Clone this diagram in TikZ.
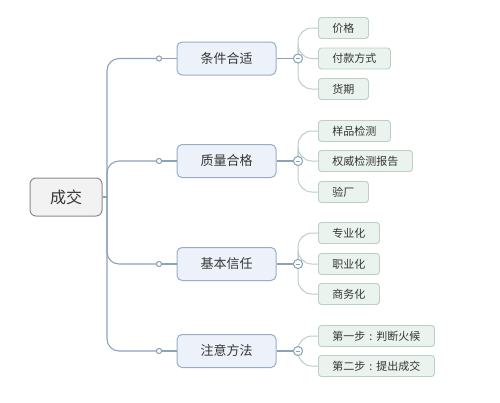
\documentclass[tikz,border=0pt]{standalone}
\usepackage{fontspec}
\newfontfamily\cjk{Noto Sans CJK SC}
\definecolor{mainline}{HTML}{8CA2B8}
\definecolor{subline}{HTML}{BDCEC4}
\definecolor{lvfill}{HTML}{EDF2FA}
\definecolor{lvdraw}{HTML}{98ADC5}
\definecolor{rootfill}{HTML}{F2F2F2}
\definecolor{rootdraw}{HTML}{8C8C8C}
\definecolor{chfill}{HTML}{EAF3EE}
\definecolor{chdraw}{HTML}{B9D0C2}
\definecolor{txt}{HTML}{363636}
\newcommand{\midcolon}{\makebox[11pt][c]{:}}
\tikzset{
  rootbox/.style={draw=rootdraw, fill=rootfill, line width=1pt, rounded corners=6pt,
    minimum width=72pt, minimum height=38pt, inner sep=0pt, text=txt,
    font=\cjk\fontsize{16}{18}\selectfont},
  lvbox/.style={draw=lvdraw, fill=lvfill, line width=1pt, rounded corners=5pt,
    minimum width=99pt, minimum height=33pt, inner sep=0pt, text=txt,
    font=\cjk\fontsize{13}{15}\selectfont},
  chbox/.style={draw=chdraw, fill=chfill, line width=0.9pt, rounded corners=3pt,
    minimum height=21pt, inner sep=0pt, anchor=west, text=txt,
    font=\cjk\fontsize{11}{13}\selectfont},
  mainconn/.style={draw=mainline, line width=1.1pt, rounded corners=12pt},
  subconn/.style={draw=subline, line width=1pt, rounded corners=14pt},
  knob/.style={circle, draw=mainline, fill=white, line width=0.9pt, minimum size=5pt, inner sep=0pt},
  minusknob/.style={circle, draw=mainline, fill=white, line width=0.9pt, minimum size=9pt, inner sep=0pt,
    path picture={\draw[mainline, line width=0.8pt] ([xshift=-2pt]path picture bounding box.center) -- ([xshift=2pt]path picture bounding box.center);}},
}
\begin{document}
\begin{tikzpicture}[x=1pt,y=-1pt]
\useasboundingbox (0,0) rectangle (500,402);
% root
\node[rootbox] (root) at (66,197) {成交};
\coordinate (j) at (107,197);
% level 1
\node[lvbox] (a) at (226.5,58.5) {条件合适};
\node[lvbox] (b) at (226.5,161) {质量合格};
\node[lvbox] (c) at (226.5,264) {基本信任};
\node[lvbox] (d) at (226.5,351) {注意方法};
% knobs left
\node[knob] (ka) at (159,58.5) {};
\node[knob] (kb) at (159,161) {};
\node[knob] (kc) at (159,264) {};
\node[knob] (kd) at (159,351) {};
% minus knobs right
\node[minusknob] (ma) at (298,58.5) {};
\node[minusknob] (mb) at (298,161) {};
\node[minusknob] (mc) at (298,264) {};
\node[minusknob] (md) at (298,351) {};
% children
\node[chbox, minimum width=50pt] (a1) at (318,28) {价格};
\node[chbox, minimum width=72pt] (a2) at (318,58.5) {付款方式};
\node[chbox, minimum width=50pt] (a3) at (318,89) {货期};
\node[chbox, minimum width=72pt] (b1) at (318,131) {样品检测};
\node[chbox, minimum width=94pt] (b2) at (318,161) {权威检测报告};
\node[chbox, minimum width=50pt] (b3) at (318,192) {验厂};
\node[chbox, minimum width=61pt] (c1) at (318,233) {专业化};
\node[chbox, minimum width=61pt] (c2) at (318,264) {职业化};
\node[chbox, minimum width=61pt] (c3) at (318,294) {商务化};
\node[chbox, minimum width=116pt] (d1) at (318,336) {第一步\midcolon 判断火候};
\node[chbox, minimum width=116pt] (d2) at (318,366) {第二步\midcolon 提出成交};
% connectors
\draw[mainconn, rounded corners=0pt] (root.east) -- (j);
\foreach \n in {a,b,c,d}{
  \draw[mainconn] (j) |- (k\n.west);
  \draw[mainconn, rounded corners=0pt] (k\n.east) -- (\n.west);
  \draw[mainconn, rounded corners=0pt] (\n.east) -- (m\n.west);
}
\foreach \p/\q in {a/a1,a/a2,a/a3,b/b1,b/b2,b/b3,c/c1,c/c2,c/c3,d/d1,d/d2}{
  \draw[subconn] (m\p.center) |- (\q.west);
}
% redraw knobs on top
\foreach \n in {a,b,c,d}{
  \node[knob] at (k\n) {};
  \node[minusknob] at (m\n) {};
}
\end{tikzpicture}
\end{document}
